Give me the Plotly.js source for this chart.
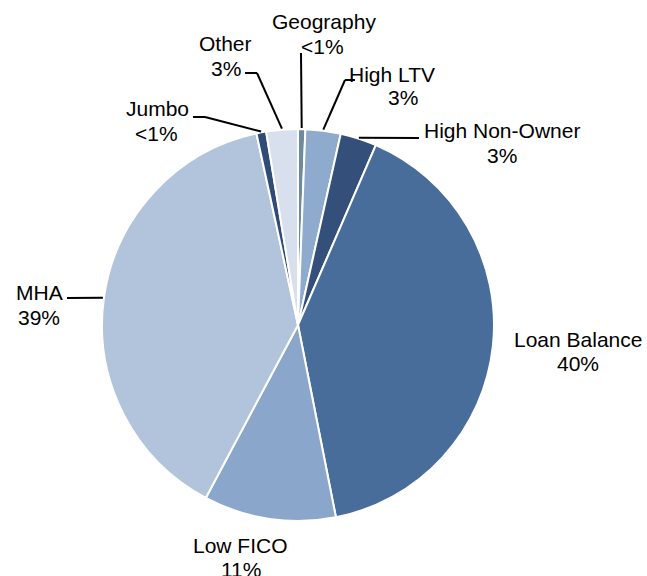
<!DOCTYPE html>
<html>
<head>
<meta charset="utf-8">
<script src="https://cdn.plot.ly/plotly-3.0.1.min.js"></script>
<style>html,body{margin:0;padding:0;background:#fff;}#chart{width:647px;height:576px;}</style>
</head>
<body>
<div id="chart"></div>
<script>
// ---- data ----
const categories = ["Geography", "High LTV", "High Non-Owner", "Loan Balance", "Low FICO", "MHA", "Jumbo", "Other"];
const shares = [0.6, 2.9, 3.0, 40.4, 10.9, 38.8, 0.8, 2.6];
const pctLabels = ["<1%", "3%", "3%", "40%", "11%", "39%", "<1%", "3%"];
const sliceColors = ["#6e8b9d", "#8eaacd", "#34507a", "#486d9b", "#8aa7cb", "#b2c4dc", "#2f4b76", "#d8e0ee"];

// ---- layout (pixels) ----
const W = 647, H = 576;
const CX = 298, CY = 325, R = 196;
const FONT = {family: "Liberation Sans, Arial, sans-serif", size: 21, color: "#000"};
// label placement: name line centre, percent line centre, leader line points after slice edge
const labelLayout = {
  "Geography":      {name: [324, 21],  pct: [322, 46],  leader: [["edge"], [301, 53]]},
  "High LTV":       {name: [392, 74],  pct: [403, 98],  leader: [["edge"], [345, 80], [355, 80]]},
  "High Non-Owner": {name: [502, 130], pct: [502, 155], leader: [["edge"], [419, 138]]},
  "Loan Balance":   {name: [578, 339], pct: [578, 363], leader: null},
  "Low FICO":       {name: [240, 545], pct: [241, 569], leader: null},
  "MHA":            {name: [39, 292],  pct: [39, 317],  leader: [["edge"], [67, 298]]},
  "Jumbo":          {name: [157, 108], pct: [156, 133], leader: [["edge"], [205, 117], [193, 117]]},
  "Other":          {name: [226, 44],  pct: [226, 68],  leader: [["edge"], [257, 73], [245, 73]]}
};

const px = x => x / W;
const py = y => 1 - y / H;

const total = shares.reduce((a, b) => a + b, 0);
let cum = 0;
const edgePts = shares.map(v => {
  const mid = (cum + v / 2) / total * 2 * Math.PI;
  cum += v;
  return [CX + (R + 1) * Math.sin(mid), CY - (R + 1) * Math.cos(mid)];
});

const annotations = [];
const shapes = [];
categories.forEach((c, i) => {
  const L = labelLayout[c];
  annotations.push({xref: "paper", yref: "paper", x: px(L.name[0]), y: py(L.name[1]), text: c,
    showarrow: false, xanchor: "center", yanchor: "middle", font: FONT});
  annotations.push({xref: "paper", yref: "paper", x: px(L.pct[0]), y: py(L.pct[1]), text: pctLabels[i],
    showarrow: false, xanchor: "center", yanchor: "middle", font: FONT});
  if (L.leader) {
    const pts = L.leader.map(p => p[0] === "edge" ? edgePts[i] : p);
    for (let k = 0; k < pts.length - 1; k++) {
      shapes.push({type: "line", xref: "paper", yref: "paper",
        x0: px(pts[k][0]), y0: py(pts[k][1]), x1: px(pts[k + 1][0]), y1: py(pts[k + 1][1]),
        line: {color: "#000", width: 2}});
    }
  }
});

const trace = {
  type: "pie",
  labels: categories,
  values: shares,
  sort: false,
  direction: "clockwise",
  rotation: 0,
  textinfo: "none",
  hoverinfo: "label+percent",
  marker: {colors: sliceColors, line: {color: "#ffffff", width: 2}},
  domain: {x: [px(CX - R), px(CX + R)], y: [py(CY + R), py(CY - R)]},
  showlegend: false
};

const layout = {
  width: W, height: H,
  margin: {l: 0, r: 0, t: 0, b: 0},
  paper_bgcolor: "#fff",
  showlegend: false,
  annotations: annotations,
  shapes: shapes,
  font: FONT
};

Plotly.newPlot("chart", [trace], layout, {displayModeBar: false, staticPlot: true});
</script>
</body>
</html>
